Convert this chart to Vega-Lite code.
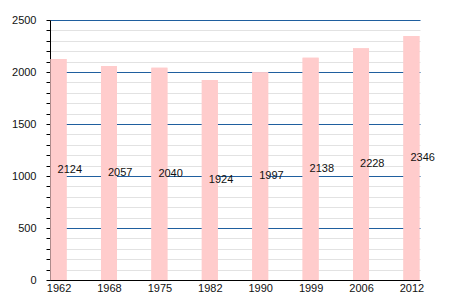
{
  "$schema": "https://vega.github.io/schema/vega-lite/v6.json",
  "width": 370,
  "height": 260,
  "autosize": {"type": "none"},
  "padding": {"left": 50, "top": 20, "right": 30, "bottom": 20},
  "background": "white",
  "config": {"view": {"stroke": null}, "font": "Liberation Sans"},
  "data": {"values": [
    {"year": "1962", "pop": 2124},
    {"year": "1968", "pop": 2057},
    {"year": "1975", "pop": 2040},
    {"year": "1982", "pop": 1924},
    {"year": "1990", "pop": 1997},
    {"year": "1999", "pop": 2138},
    {"year": "2006", "pop": 2228},
    {"year": "2012", "pop": 2346}
  ]},
  "encoding": {
    "x": {"field": "year", "type": "ordinal", "scale": {"type": "point", "padding": 0.17},
      "axis": {"title": null, "labelAngle": 0, "ticks": false, "domainColor": "black", "labelColor": "#111", "labelFontSize": 11, "labelPadding": 2, "grid": false}}
  },
  "layer": [
    {
      "mark": {"type": "bar", "size": 16, "color": "#ffcccc"},
      "encoding": {
        "y": {"field": "pop", "type": "quantitative", "scale": {"domain": [0, 2500], "nice": false},
          "axis": {"title": null, "format": "d", "values": [0, 500, 1000, 1500, 2000, 2500], "grid": true, "gridColor": "#1f5f9f", "gridOpacity": 1, "gridWidth": 1,
            "domainColor": "black", "tickColor": "black", "tickSize": 4, "labelPadding": 10, "labelColor": "#111", "labelFontSize": 11}}
      }
    },
    {
      "mark": {"type": "bar", "size": 16, "color": "#ffcccc"},
      "encoding": {
        "y": {"field": "pop", "type": "quantitative", "scale": {"domain": [0, 2500], "nice": false},
          "axis": {"title": null, "orient": "left", "labels": false, "domain": false,
            "values": [100, 200, 300, 400, 600, 700, 800, 900, 1100, 1200, 1300, 1400, 1600, 1700, 1800, 1900, 2100, 2200, 2300, 2400],
            "grid": true, "gridColor": "#e2e2e2", "gridOpacity": 1, "tickColor": "black", "tickSize": 4}}
      }
    },
    {
      "transform": [{"calculate": "datum.pop / 2", "as": "half"}],
      "mark": {"type": "text", "align": "left", "baseline": "middle", "dx": -1, "fontSize": 11, "color": "#111"},
      "encoding": {
        "y": {"field": "half", "type": "quantitative", "scale": {"domain": [0, 2500], "nice": false}, "axis": null},
        "text": {"field": "pop", "type": "quantitative", "format": "d"}
      }
    }
  ],
  "resolve": {"axis": {"y": "independent"}}
}
